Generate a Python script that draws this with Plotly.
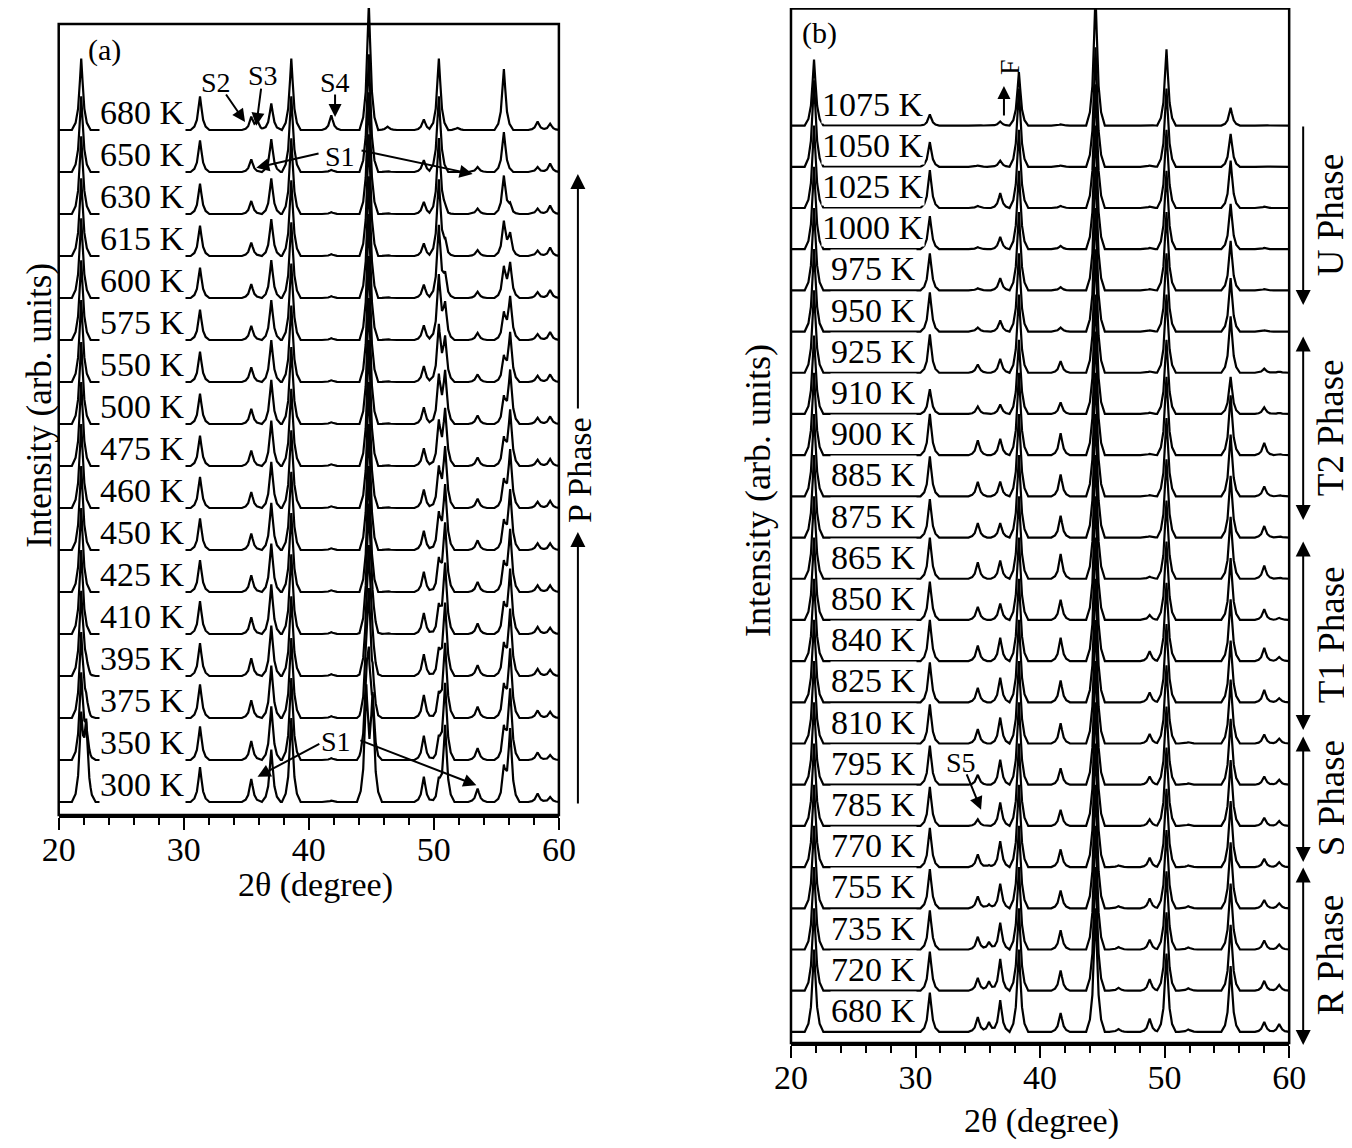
import numpy as np
import plotly.graph_objects as go

# ---------------- data: panel (a) ----------------
TEMPS_A = [300, 350, 375, 395, 410, 425, 450, 460, 475, 500, 550, 575, 600, 615, 630, 650, 680]
PEAKS_A = [21.8, 22.2, 31.3, 35.4, 35.9, 37.0, 38.6, 41.8, 44.6, 44.8, 45.1, 46.3,
           49.2, 50.4, 50.9, 51.9, 53.5, 55.6, 56.1, 58.3, 59.3]
HEIGHTS_A = [
    [1.9, 1.7, 0.83, 0.55, 0.0, 1.25, 2.0, 0.03, 2.6, 0.0, 2.4, 0.0, 0.6, 0.45, 1.8, 0.0, 0.32, 0.75, 1.7, 0.2, 0.12],
    [2.0, 0.6, 0.8, 0.45, 0.0, 1.28, 1.95, 0.04, 1.5, 1.8, 1.0, 0.0, 0.58, 0.45, 1.8, 0.0, 0.28, 0.7, 1.65, 0.18, 0.12],
    [2.0, 0.3, 0.8, 0.42, 0.0, 1.25, 1.9, 0.04, 0.8, 2.6, 0.6, 0.0, 0.55, 0.5, 1.75, 0.0, 0.27, 0.7, 1.6, 0.18, 0.15],
    [2.0, 0.2, 0.78, 0.42, 0.0, 1.2, 1.9, 0.04, 0.5, 2.8, 0.4, 0.0, 0.52, 0.55, 1.7, 0.0, 0.26, 0.68, 1.55, 0.17, 0.15],
    [2.0, 0.0, 0.78, 0.40, 0.0, 1.18, 1.9, 0.04, 0.3, 2.9, 0.3, 0.02, 0.5, 0.6, 1.65, 0.0, 0.25, 0.66, 1.5, 0.17, 0.15],
    [2.0, 0.0, 0.76, 0.40, 0.0, 1.15, 1.88, 0.04, 0.0, 3.0, 0.0, 0.02, 0.48, 0.7, 1.6, 0.0, 0.24, 0.64, 1.45, 0.16, 0.16],
    [2.0, 0.0, 0.75, 0.39, 0.0, 1.12, 1.86, 0.04, 0.0, 3.0, 0.0, 0.02, 0.46, 0.8, 1.5, 0.0, 0.23, 0.62, 1.4, 0.16, 0.16],
    [2.0, 0.0, 0.74, 0.38, 0.0, 1.1, 1.85, 0.04, 0.0, 3.0, 0.0, 0.02, 0.44, 0.9, 1.4, 0.0, 0.22, 0.6, 1.35, 0.15, 0.17],
    [2.0, 0.0, 0.72, 0.37, 0.0, 1.08, 1.84, 0.04, 0.0, 3.0, 0.0, 0.02, 0.42, 1.0, 1.3, 0.0, 0.2, 0.6, 1.3, 0.15, 0.17],
    [1.95, 0.0, 0.72, 0.36, 0.0, 1.05, 1.83, 0.04, 0.0, 3.0, 0.0, 0.02, 0.40, 1.1, 1.2, 0.0, 0.2, 0.58, 1.25, 0.15, 0.18],
    [1.95, 0.0, 0.72, 0.35, 0.0, 1.0, 1.82, 0.04, 0.0, 3.0, 0.0, 0.02, 0.38, 1.3, 1.0, 0.0, 0.18, 0.55, 1.15, 0.15, 0.18],
    [1.9, 0.0, 0.72, 0.34, 0.0, 0.95, 1.82, 0.04, 0.0, 3.0, 0.0, 0.02, 0.35, 1.5, 0.8, 0.0, 0.17, 0.6, 1.0, 0.14, 0.19],
    [1.9, 0.0, 0.72, 0.33, 0.0, 0.9, 1.8, 0.04, 0.0, 2.9, 0.0, 0.02, 0.32, 1.7, 0.5, 0.0, 0.15, 0.7, 0.8, 0.14, 0.19],
    [1.85, 0.0, 0.72, 0.32, 0.0, 0.88, 1.8, 0.04, 0.0, 2.9, 0.0, 0.02, 0.30, 1.8, 0.3, 0.0, 0.14, 0.8, 0.5, 0.13, 0.2],
    [1.85, 0.0, 0.72, 0.31, 0.0, 0.85, 1.8, 0.04, 0.0, 2.9, 0.0, 0.02, 0.29, 1.8, 0.1, 0.0, 0.13, 0.9, 0.2, 0.13, 0.2],
    [1.8, 0.0, 0.75, 0.30, 0.0, 0.78, 1.8, 0.05, 0.0, 2.8, 0.0, 0.02, 0.28, 1.8, 0.0, 0.0, 0.12, 0.95, 0.0, 0.12, 0.2],
    [1.7, 0.0, 0.8, 0.30, 0.2, 0.63, 1.7, 0.35, 0.0, 3.0, 0.0, 0.08, 0.25, 1.7, 0.0, 0.05, 0.0, 1.45, 0.0, 0.2, 0.15],
]

# ---------------- data: panel (b) ----------------
TEMPS_B = [680, 720, 735, 755, 770, 785, 795, 810, 825, 840, 850, 865, 875, 885, 900, 910,
           925, 950, 975, 1000, 1025, 1050, 1075]
PEAKS_B = [21.85, 31.15, 35.0, 35.9, 36.8, 38.3, 41.65, 44.45, 46.3, 48.8, 50.15, 51.9, 55.3, 58.0, 59.2]
HEIGHTS_B = [
    [2.0, 0.95, 0.36, 0.24, 0.77, 2.0, 0.46, 3.0, 0.07, 0.32, 1.9, 0.06, 1.6, 0.24, 0.19],
    [2.0, 0.95, 0.31, 0.23, 0.77, 2.0, 0.49, 3.0, 0.07, 0.28, 1.9, 0.06, 1.6, 0.24, 0.14],
    [2.0, 0.95, 0.31, 0.19, 0.65, 2.0, 0.47, 3.0, 0.06, 0.24, 1.9, 0.05, 1.6, 0.22, 0.12],
    [2.0, 0.95, 0.29, 0.10, 0.60, 2.0, 0.43, 3.0, 0.05, 0.24, 1.9, 0.05, 1.6, 0.20, 0.12],
    [2.0, 0.95, 0.31, 0.05, 0.63, 2.0, 0.43, 3.0, 0.04, 0.23, 1.9, 0.04, 1.6, 0.20, 0.12],
    [2.0, 0.95, 0.16, 0.0, 0.57, 2.0, 0.39, 3.0, 0.0, 0.16, 1.9, 0.03, 1.6, 0.20, 0.12],
    [2.0, 0.95, 0.24, 0.0, 0.61, 2.0, 0.40, 3.0, 0.0, 0.20, 1.9, 0.03, 1.6, 0.20, 0.12],
    [2.0, 0.95, 0.35, 0.0, 0.63, 2.0, 0.49, 3.0, 0.0, 0.23, 1.9, 0.03, 1.55, 0.22, 0.12],
    [2.0, 0.97, 0.35, 0.0, 0.60, 2.0, 0.53, 3.0, 0.0, 0.24, 1.9, 0.0, 1.5, 0.30, 0.10],
    [2.0, 1.0, 0.38, 0.0, 0.57, 2.0, 0.57, 3.0, 0.0, 0.24, 1.9, 0.0, 1.5, 0.32, 0.10],
    [2.0, 0.93, 0.32, 0.0, 0.40, 2.0, 0.49, 3.0, 0.0, 0.12, 1.9, 0.0, 1.5, 0.26, 0.05],
    [2.0, 1.0, 0.40, 0.0, 0.44, 2.0, 0.60, 3.0, 0.0, 0.05, 1.9, 0.0, 1.5, 0.32, 0.03],
    [2.0, 0.93, 0.35, 0.0, 0.35, 2.0, 0.53, 3.0, 0.0, 0.03, 1.9, 0.0, 1.5, 0.28, 0.03],
    [2.0, 0.97, 0.35, 0.0, 0.36, 2.0, 0.53, 3.0, 0.0, 0.03, 1.9, 0.0, 1.5, 0.24, 0.03],
    [2.0, 1.0, 0.36, 0.0, 0.40, 2.0, 0.53, 3.0, 0.0, 0.03, 1.9, 0.0, 1.45, 0.30, 0.03],
    [1.9, 0.6, 0.18, 0.0, 0.23, 1.8, 0.28, 2.9, 0.0, 0.03, 1.8, 0.0, 0.9, 0.16, 0.03],
    [2.0, 0.93, 0.20, 0.0, 0.34, 1.9, 0.28, 3.0, 0.0, 0.03, 1.9, 0.0, 1.37, 0.10, 0.03],
    [2.0, 0.95, 0.10, 0.0, 0.27, 1.9, 0.10, 3.0, 0.0, 0.03, 1.9, 0.0, 1.3, 0.03, 0.0],
    [2.0, 0.90, 0.05, 0.0, 0.30, 1.9, 0.08, 3.0, 0.0, 0.03, 1.9, 0.0, 1.2, 0.03, 0.0],
    [2.0, 0.80, 0.05, 0.0, 0.30, 1.9, 0.08, 3.0, 0.0, 0.03, 1.9, 0.0, 1.1, 0.03, 0.0],
    [2.0, 0.92, 0.05, 0.0, 0.36, 1.9, 0.05, 3.0, 0.0, 0.03, 1.9, 0.0, 1.15, 0.03, 0.0],
    [2.1, 0.60, 0.03, 0.0, 0.15, 1.9, 0.03, 2.9, 0.0, 0.03, 1.9, 0.0, 0.8, 0.02, 0.0],
    [1.6, 0.27, 0.02, 0.0, 0.10, 1.3, 0.03, 3.2, 0.0, 0.02, 1.85, 0.0, 0.43, 0.02, 0.0],
]

PHASES_B = ["U Phase", "T2 Phase", "T1 Phase", "S Phase", "R Phase"]
PHASE_A = "P Phase"

# ---------------- style / geometry ----------------
FONT = "Liberation Serif"
PEAK_DX = np.array([-0.75, -0.45, -0.25, -0.1, 0.0, 0.1, 0.25, 0.45, 0.75])   # peak profile
PEAK_FR = np.array([0.0, 0.1, 0.3, 0.7, 1.0, 0.7, 0.3, 0.1, 0.0])
X_RANGE = [20, 60]
OFF = 8                       # default page margin of the html body
W, H = 1380, 1148 - 2 * OFF
SX, SX0 = 0.975, 16.5         # observed horizontal mapping of the photographed page


def PX(x):
    page = (x - SX0) / SX
    return (page - OFF) / W


def PY(y):
    return min(1.0, 1 - (y - OFF) / H)


def pattern(peaks, heights, offset):
    xs = [X_RANGE[0], X_RANGE[1]]
    for p, h in zip(peaks, heights):
        if h > 0:
            xs.extend(list(p + PEAK_DX))
    xs = np.unique(np.clip(np.array(xs), X_RANGE[0], X_RANGE[1]))
    ys = np.full(xs.shape, float(offset))
    for p, h in zip(peaks, heights):
        if h > 0:
            ys += h * np.interp(xs, p + PEAK_DX, PEAK_FR, left=0.0, right=0.0)
    return xs, ys


fig = go.Figure()

for i, hs in enumerate(HEIGHTS_A):
    x, y = pattern(PEAKS_A, hs, i)
    fig.add_trace(go.Scatter(x=x, y=y, mode="lines", xaxis="x", yaxis="y",
                             line=dict(color="black", width=2.2), showlegend=False,
                             hoverinfo="skip"))
for i, hs in enumerate(HEIGHTS_B):
    x, y = pattern(PEAKS_B, hs, i)
    fig.add_trace(go.Scatter(x=x, y=y, mode="lines", xaxis="x2", yaxis="y2",
                             line=dict(color="black", width=2.2), showlegend=False,
                             hoverinfo="skip"))

ann = []


def label(txt, x, y, xref, yref, size=33, **kw):
    d = dict(text=txt, x=x, y=y, xref=xref, yref=yref, showarrow=False,
             xanchor="center", yanchor="middle",
             font=dict(family=FONT, size=size, color="black"))
    d.update(kw)
    ann.append(d)


def arrow(x0, y0, x1, y1, xref, yref, side="end", head=2, size=1.3):
    ann.append(dict(text="", x=x1, y=y1, ax=x0, ay=y0, xref=xref, yref=yref,
                    axref=xref, ayref=yref, showarrow=True, arrowhead=head,
                    startarrowhead=head, arrowside=side, arrowsize=size,
                    startarrowsize=size, arrowwidth=2, arrowcolor="black"))


def varrow(xpx, y_head, y_tail, side="end", size=1.5):
    ann.append(dict(text="", x=PX(xpx), y=PY(y_head), xref="paper", yref="paper",
                    axref="pixel", ayref="pixel", ax=0, ay=y_tail - y_head,
                    showarrow=True, arrowhead=2, startarrowhead=2, arrowside=side,
                    arrowsize=size, startarrowsize=size, arrowwidth=2,
                    arrowcolor="black"))


# temperature labels
for i, t in enumerate(TEMPS_A):
    label(f"{t} K", 26.7, i + 0.42, "x", "y", size=34, bgcolor="white", borderpad=0)
for i, t in enumerate(TEMPS_B):
    label(f"{t} K", 26.6, i + 0.52, "x2", "y2", size=34, bgcolor="white", borderpad=0)

# panel (a) annotations
label("(a)", 23.7, 17.9, "x", "y", size=30)
label("S2", 32.6, 17.14, "x", "y", size=28)
arrow(33.3, 16.88, 34.9, 16.19, "x", "y")
label("S3", 36.3, 17.29, "x", "y", size=28)
arrow(36.2, 17.02, 35.8, 16.1, "x", "y")
label("S4", 42.1, 17.14, "x", "y", size=28)
arrow(42.1, 16.88, 42.1, 16.31, "x", "y")
label("S1", 42.5, 15.36, "x", "y", size=28)
arrow(40.9, 15.45, 35.8, 15.1, "x", "y")
arrow(44.1, 15.52, 53.1, 14.95, "x", "y")
label("S1", 42.2, 1.43, "x", "y", size=28)
arrow(40.96, 1.40, 35.9, 0.6, "x", "y")
arrow(44.0, 1.48, 53.4, 0.4, "x", "y")
# P phase (outside the plot area, paper coordinates)
varrow(577, 532, 805)
varrow(577, 174, 410)
label(PHASE_A, PX(578), PY(470), "paper", "paper", size=34, textangle=-90)

# panel (b) annotations
label("(b)", 22.25, 24.25, "x2", "y2", size=30)
label("F", 37.5, 23.42, "x2", "y2", size=28, textangle=-90)
arrow(37.1, 22.21, 37.1, 22.96, "x2", "y2")
label("S5", 33.65, 6.53, "x2", "y2", size=28)
arrow(34.06, 6.29, 35.26, 5.39, "x2", "y2")

PH_ARROWS = [(305, 125, "end"), (520, 335, "end+start"), (730, 540, "end+start"),
             (862, 735, "end+start"), (1045, 866, "end+start")]
PH_TEXT_Y = [215, 428, 635, 798, 955]
for (yh, yt, side), name, ty in zip(PH_ARROWS, PHASES_B, PH_TEXT_Y):
    varrow(1302, yh, yt, side=side)
    label(name, PX(1330), PY(ty), "paper", "paper", size=37, textangle=-90)

# axis titles
label("Intensity (arb. units)", PX(38), PY(405), "paper", "paper", size=35, textangle=-90)
label("Intensity (arb. units)", PX(757), PY(490), "paper", "paper", size=36, textangle=-90)
label("2θ (degree)", PX(315), PY(885), "paper", "paper", size=34)
label("2θ (degree)", PX(1040), PY(1121), "paper", "paper", size=34)

# frames (drawn as shapes so that the tallest peaks may poke out above the top edge)
FRAMES = [(58, 558, 24, 815), (790, 1288, 8.5, 1043)]
shapes = [dict(type="rect", xref="paper", yref="paper", x0=PX(l), x1=PX(r), y0=PY(b), y1=PY(t),
               line=dict(color="black", width=2.5), layer="above")
          for l, r, t, b in FRAMES]

xcommon = dict(range=X_RANGE, tickvals=[20, 30, 40, 50, 60], ticks="outside", ticklen=12,
               tickwidth=2, tickcolor="black", showline=True, linewidth=2.5,
               linecolor="black", mirror=False, showgrid=False, zeroline=False,
               ticklabelstandoff=-10,
               tickfont=dict(family=FONT, size=34, color="black"),
               minor=dict(dtick=2, tick0=20, ticks="outside", ticklen=7, tickwidth=2,
                          tickcolor="black", showgrid=False))
ycommon = dict(showline=False, showgrid=False, zeroline=False, showticklabels=False, ticks="")

# y ranges: one unit per curve; (a) baselines start at y=802 px, 42 px apart;
# (b) baselines start at y=1032 px, 41.2 px apart
fig.update_layout(
    width=W, height=H, margin=dict(l=0, r=0, t=0, b=0),
    paper_bgcolor="white", plot_bgcolor="white", showlegend=False,
    xaxis=dict(domain=[PX(58), PX(558)], anchor="y", **xcommon),
    yaxis=dict(domain=[PY(815), PY(8)], anchor="x", range=[-0.31, (802 - 8) / 42], **ycommon),
    xaxis2=dict(domain=[PX(790), PX(1288)], anchor="y2", **xcommon),
    yaxis2=dict(domain=[PY(1043), PY(8)], anchor="x2", range=[-0.27, (1032 - 8) / 41.2], **ycommon),
    annotations=ann, shapes=shapes,
)

fig.write_html("out.html")
